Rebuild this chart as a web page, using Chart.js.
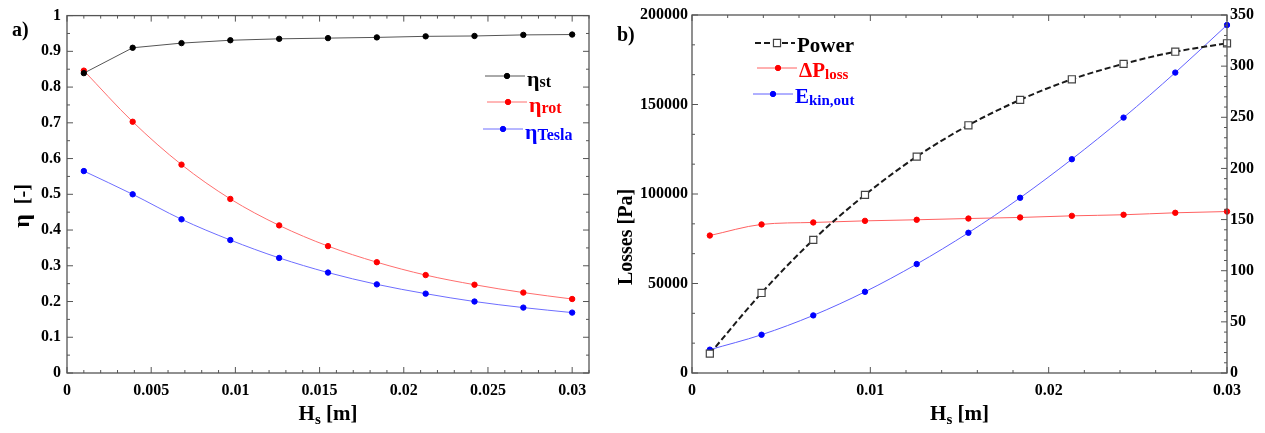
<!DOCTYPE html>
<html><head><meta charset="utf-8">
<script src="https://cdn.jsdelivr.net/npm/chart.js@4/dist/chart.umd.min.js"></script>
<style>
html,body{margin:0;padding:0;background:#fff;width:1265px;height:433px;overflow:hidden}
.box{position:absolute;top:0;height:433px}
</style></head><body>
<div class="box" style="left:0;width:600px"><canvas id="c1"></canvas></div>
<div class="box" style="left:600px;width:665px"><canvas id="c2"></canvas></div>
<script>
// ---- data ----
const hs = [0.001, 0.0039, 0.0068, 0.0097, 0.0126, 0.0155, 0.0184, 0.0213, 0.0242, 0.0271, 0.03];
const etaSt    = [0.839, 0.910, 0.923, 0.931, 0.935, 0.937, 0.939, 0.942, 0.943, 0.946, 0.947];
const etaRot   = [0.846, 0.703, 0.583, 0.487, 0.413, 0.355, 0.310, 0.274, 0.247, 0.225, 0.207];
const etaTesla = [0.565, 0.500, 0.430, 0.372, 0.322, 0.281, 0.248, 0.222, 0.200, 0.183, 0.169];
const power    = [10800, 44700, 74400, 99500, 120900, 138400, 152600, 164100, 172700, 179500, 184200];
const dpLoss   = [76800, 83000, 84100, 85000, 85600, 86300, 86900, 87800, 88400, 89500, 90200];
const eKinOut  = [22.8, 37.4, 56.3, 79.4, 106.5, 137.1, 171.3, 209.0, 249.7, 293.7, 340.2];

const panelA = 'a)';
const panelB = 'b)';
const xTitle = [['H', 21, 0], ['s', 15, 4], [' [m]', 21, 0]];
const yTitleA = [['η', 24, 0], ['  [-]', 20, 0]];
const yTitleB = [['Losses [Pa]', 20, 0]];
const legA = [
  [['η', 22, 0], ['st', 16, 1]],
  [['η', 22, 0], ['rot', 16, 1]],
  [['η', 22, 0], ['Tesla', 16, 1]]
];
const legB = [
  [['Power', 21, 0]],
  [['ΔP', 21, 0], ['loss', 15, 2]],
  [['E', 21, 0], ['kin,out', 15, 2]]
];

const SERIF = "'Liberation Serif','Times New Roman',serif";
const pts = arr => arr.map((v, i) => ({x: hs[i], y: v}));
const fmt = v => String(+(+v).toFixed(5));

function richText(ctx, x, y, parts, color, align) {
  ctx.save();
  ctx.fillStyle = color; ctx.textBaseline = 'alphabetic'; ctx.textAlign = 'left';
  let total = 0;
  parts.forEach(p => { ctx.font = `bold ${p[1]}px ${SERIF}`; total += ctx.measureText(p[0]).width; });
  let cx = align === 'center' ? x - total / 2 : x;
  parts.forEach(p => {
    ctx.font = `bold ${p[1]}px ${SERIF}`;
    ctx.fillText(p[0], cx, y + (p[2] || 0));
    cx += ctx.measureText(p[0]).width;
  });
  ctx.restore();
}

function drawMarker(ctx, ds, x, y) {
  ctx.save();
  ctx.fillStyle = ds.pointBackgroundColor; ctx.strokeStyle = ds.pointBorderColor;
  ctx.lineWidth = ds.pointBorderWidth || 1; ctx.setLineDash([]);
  const r = ds.pointRadius;
  ctx.beginPath();
  if (ds.pointStyle === 'rect') { const s = r * Math.SQRT1_2; ctx.rect(x - s, y - s, 2 * s, 2 * s); }
  else ctx.arc(x, y, r, 0, Math.PI * 2);
  ctx.fill(); ctx.stroke();
  ctx.restore();
}

function makeDecor(cfg) {
  return {
    id: 'decor' + cfg.name,
    afterDraw(chart) {
      const ctx = chart.ctx, a = chart.chartArea;
      ctx.save();
      ctx.strokeStyle = '#555'; ctx.lineWidth = 1.3; ctx.setLineDash([]);
      ctx.strokeRect(a.left, a.top, a.right - a.left, a.bottom - a.top);
      ctx.lineWidth = 1;
      cfg.ticks.forEach(t => {
        const s = chart.scales[t.id];
        const n = Math.round((s.max - s.min) / t.minor);
        for (let i = 0; i <= n; i++) {
          const v = s.min + i * t.minor;
          const r = v / t.major;
          const len = Math.abs(r - Math.round(r)) < 1e-6 ? 6 : 3;
          const p = s.getPixelForValue(v);
          t.sides.forEach(side => {
            ctx.beginPath();
            if (side === 'bottom') { ctx.moveTo(p, a.bottom); ctx.lineTo(p, a.bottom - len); }
            if (side === 'top') { ctx.moveTo(p, a.top); ctx.lineTo(p, a.top + len); }
            if (side === 'left') { ctx.moveTo(a.left, p); ctx.lineTo(a.left + len, p); }
            if (side === 'right') { ctx.moveTo(a.right, p); ctx.lineTo(a.right - len, p); }
            ctx.stroke();
          });
        }
      });
      ctx.restore();
      // panel label
      richText(ctx, cfg.panel.x, cfg.panel.y, [[cfg.panel.text, 20, 0]], '#000', 'left');
      // x title
      richText(ctx, (a.left + a.right) / 2, cfg.xTitleY, xTitle, '#000', 'center');
      // y title (rotated)
      ctx.save();
      ctx.translate(cfg.yTitle.x, cfg.yTitle.y);
      ctx.rotate(-Math.PI / 2);
      richText(ctx, 0, 7, cfg.yTitle.parts, '#000', 'center');
      ctx.restore();
      // legend
      cfg.legend.forEach(it => {
        const ds = chart.data.datasets[it.ds];
        ctx.save();
        ctx.strokeStyle = ds.borderColor; ctx.lineWidth = ds.borderWidth;
        ctx.setLineDash(ds.borderDash || []);
        ctx.beginPath(); ctx.moveTo(it.x0, it.y); ctx.lineTo(it.x1, it.y); ctx.stroke();
        ctx.restore();
        drawMarker(ctx, ds, it.m, it.y);
        richText(ctx, it.tx, it.y + it.dy, it.parts, ds.textColor, 'left');
      });
    }
  };
}

const tickFont = {family: SERIF, size: 16, weight: 'bold'};
const fixW = w => (s => { s.width = w; });
const fixH = h => (s => { s.height = h; });

function lineDs(label, data, line, point, extra) {
  return Object.assign({
    label, data, borderColor: line, borderWidth: 1, pointBackgroundColor: point,
    pointBorderColor: point, pointBorderWidth: 1, pointRadius: 2.7, pointHoverRadius: 2.7,
    cubicInterpolationMode: 'monotone', clip: false, textColor: point
  }, extra || {});
}

// ---- chart a) ----
new Chart(document.getElementById('c1'), {
  type: 'line',
  data: {datasets: [
    lineDs('η st', pts(etaSt), '#555555', '#000000', {textColor: '#000', cubicInterpolationMode: 'default', tension: 0}),
    lineDs('η rot', pts(etaRot), '#ff6e6e', '#ff0000'),
    lineDs('η Tesla', pts(etaTesla), '#6e6eff', '#0000ff')
  ]},
  options: {
    responsive: true, maintainAspectRatio: false, animation: false,
    layout: {padding: {left: 0, top: 15, right: 11, bottom: 0}},
    plugins: {legend: {display: false}, tooltip: {enabled: false}},
    scales: {
      x: {type: 'linear', min: 0, max: 0.031, afterFit: fixH(60),
          grid: {display: false, drawTicks: false}, border: {display: false},
          ticks: {stepSize: 0.005, includeBounds: false, font: tickFont, color: '#000', padding: 8, maxRotation: 0, callback: fmt}},
      y: {type: 'linear', min: 0, max: 1, afterFit: fixW(67),
          grid: {display: false, drawTicks: false}, border: {display: false},
          ticks: {stepSize: 0.1, font: tickFont, color: '#000', padding: 6, callback: fmt}}
    }
  },
  plugins: [makeDecor({
    name: 'A',
    panel: {text: panelA, x: 12, y: 36},
    xTitleY: 420,
    yTitle: {x: 22, y: 206, parts: yTitleA},
    ticks: [
      {id: 'x', minor: 0.001, major: 0.005, sides: ['bottom', 'top']},
      {id: 'y', minor: 0.05, major: 0.1, sides: ['left', 'right']}
    ],
    legend: [
      {ds: 0, y: 76, x0: 485, x1: 525, m: 507, tx: 527, dy: 10, parts: legA[0]},
      {ds: 1, y: 102, x0: 487, x1: 527, m: 508, tx: 529, dy: 10, parts: legA[1]},
      {ds: 2, y: 129, x0: 483, x1: 523, m: 503, tx: 525, dy: 10, parts: legA[2]}
    ]
  })]
});

// ---- chart b) ----
new Chart(document.getElementById('c2'), {
  type: 'line',
  data: {datasets: [
    lineDs('Power', pts(power), '#1a1a1a', '#ffffff',
      {yAxisID: 'y', borderWidth: 2, borderDash: [6, 3], pointStyle: 'rect', pointRadius: 5, pointHoverRadius: 5,
       pointBorderColor: '#444', pointBorderWidth: 1.2, textColor: '#000'}),
    lineDs('ΔP loss', pts(dpLoss), '#ff6060', '#ff0000', {yAxisID: 'y'}),
    lineDs('E kin,out', pts(eKinOut), '#6060ff', '#0000ff', {yAxisID: 'y1'})
  ]},
  options: {
    responsive: true, maintainAspectRatio: false, animation: false,
    layout: {padding: {left: 0, top: 15, right: 0, bottom: 0}},
    plugins: {legend: {display: false}, tooltip: {enabled: false}},
    scales: {
      x: {type: 'linear', min: 0, max: 0.03, afterFit: fixH(60),
          grid: {display: false, drawTicks: false}, border: {display: false},
          ticks: {stepSize: 0.01, font: tickFont, color: '#000', padding: 8, maxRotation: 0, callback: fmt}},
      y: {type: 'linear', position: 'left', min: 0, max: 200000, afterFit: fixW(92),
          grid: {display: false, drawTicks: false}, border: {display: false},
          ticks: {stepSize: 50000, font: tickFont, color: '#000', padding: 4, callback: fmt}},
      y1: {type: 'linear', position: 'right', min: 0, max: 350, afterFit: fixW(38),
          grid: {display: false, drawTicks: false}, border: {display: false},
          ticks: {stepSize: 50, font: tickFont, color: '#000', padding: 3, callback: fmt}}
    }
  },
  plugins: [makeDecor({
    name: 'B',
    panel: {text: panelB, x: 17, y: 41},
    xTitleY: 420,
    yTitle: {x: 25, y: 237, parts: yTitleB},
    ticks: [
      {id: 'x', minor: 0.002, major: 0.01, sides: ['bottom', 'top']},
      {id: 'y', minor: 50000 / 3, major: 50000, sides: ['left']},
      {id: 'y1', minor: 10, major: 50, sides: ['right']}
    ],
    legend: [
      {ds: 0, y: 43, x0: 155, x1: 195, m: 177, tx: 197, dy: 9, parts: legB[0]},
      {ds: 1, y: 68, x0: 157, x1: 197, m: 178, tx: 199, dy: 9, parts: legB[1]},
      {ds: 2, y: 94, x0: 153, x1: 193, m: 173, tx: 195, dy: 9, parts: legB[2]}
    ]
  })]
});
</script>
</body></html>
